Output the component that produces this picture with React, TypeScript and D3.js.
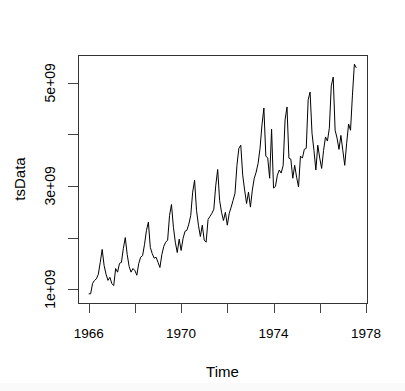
import React from 'react';
import * as d3 from 'd3';

// monthly series, starting Jan 1966 (values in units of 1e9)
const startYear = 1966;
const monthly = [
  0.91, 0.91, 1.11, 1.17, 1.20, 1.29, 1.52, 1.77, 1.46, 1.29, 1.17, 1.23,
  1.11, 1.07, 1.40, 1.33, 1.50, 1.52, 1.79, 2.00, 1.67, 1.44, 1.33, 1.40,
  1.36, 1.27, 1.50, 1.62, 1.65, 1.87, 2.14, 2.30, 1.81, 1.69, 1.60, 1.62,
  1.52, 1.42, 1.67, 1.83, 1.91, 1.95, 2.43, 2.64, 2.20, 1.91, 1.71, 1.97,
  1.75, 1.98, 2.12, 2.14, 2.26, 2.43, 2.88, 3.11, 2.53, 2.24, 2.02, 2.24,
  1.95, 1.91, 2.35, 2.41, 2.47, 2.55, 3.01, 3.32, 2.72, 2.49, 2.33, 2.49,
  2.24, 2.47, 2.59, 2.72, 2.86, 3.40, 3.73, 3.79, 3.21, 2.92, 2.66, 2.88,
  2.59, 2.92, 3.15, 3.27, 3.44, 3.73, 4.18, 4.51, 3.58, 3.54, 3.15, 4.10,
  2.96, 2.99, 3.21, 3.31, 3.25, 3.40, 4.28, 4.53, 3.54, 3.52, 3.15, 3.40,
  3.17, 2.98, 3.58, 3.54, 3.71, 3.73, 4.67, 4.82, 4.02, 3.69, 3.31, 3.79,
  3.54, 3.34, 3.69, 3.95, 3.87, 4.12, 4.94, 5.11, 4.08, 3.93, 3.71, 3.98,
  3.69, 3.40, 3.83, 4.20, 4.08, 4.76, 5.36, 5.29,
];
const xTicks = [1966, 1968, 1970, 1972, 1974, 1976, 1978];
const xTickLabels = ['1966', '', '1970', '', '1974', '', '1978'];
const yTicks = [1e9, 2e9, 3e9, 4e9, 5e9];
const yTickLabels = ['1e+09', '', '3e+09', '', '5e+09'];

const width = 405;
const height = 391;
const margin = { left: 78, right: 38, top: 55, bottom: 88 };
const font = 'Liberation Sans, Arial, Helvetica, sans-serif';

export default function App() {
  const data = monthly.map((v, i) => ({ t: startYear + i / 12, v: v * 1e9 }));

  // R pads the data range by 4% on each side
  const tExt = d3.extent(data, (d) => d.t) as [number, number];
  const vExt = d3.extent(data, (d) => d.v) as [number, number];
  const tPad = (tExt[1] - tExt[0]) * 0.04;
  const vPad = (vExt[1] - vExt[0]) * 0.04;

  const x = d3.scaleLinear()
    .domain([tExt[0] - tPad, tExt[1] + tPad])
    .range([margin.left, width - margin.right]);
  const y = d3.scaleLinear()
    .domain([vExt[0] - vPad, vExt[1] + vPad])
    .range([height - margin.bottom, margin.top]);

  const line = d3.line<{ t: number; v: number }>()
    .x((d) => x(d.t))
    .y((d) => y(d.v));

  const x0 = margin.left;
  const x1 = width - margin.right;
  const y0 = margin.top;
  const y1 = height - margin.bottom;

  return (
    <svg width={width} height={height} style={{ position: 'absolute', left: 0, top: 0, background: '#fff' }}>
      <rect x={0} y={383} width={width} height={8} fill="#fafafa" />
      <path d={line(data) || ''} fill="none" stroke="#000" strokeWidth={1} />
      <rect x={x0 + 0.5} y={y0 + 0.5} width={x1 - x0} height={y1 - y0} fill="none" stroke="#333" strokeWidth={1} />

      {/* x axis */}
      <line x1={x(xTicks[0])} x2={x(xTicks[xTicks.length - 1])} y1={y1 + 0.5} y2={y1 + 0.5} stroke="#333" />
      {xTicks.map((t, i) => (
        <g key={t}>
          <line x1={Math.round(x(t)) + 0.5} x2={Math.round(x(t)) + 0.5} y1={y1} y2={y1 + 10} stroke="#444" />
          {xTickLabels[i] && (
            <text x={x(t)} y={338} textAnchor="middle" fontFamily={font} fontSize={13.5} fill="#000">
              {xTickLabels[i]}
            </text>
          )}
        </g>
      ))}
      <text x={(x0 + x1) / 2} y={377} textAnchor="middle" fontFamily={font} fontSize={15} fill="#000">
        Time
      </text>

      {/* y axis */}
      <line x1={x0 + 0.5} x2={x0 + 0.5} y1={y(yTicks[0])} y2={y(yTicks[yTicks.length - 1])} stroke="#333" />
      {yTicks.map((v, i) => (
        <g key={v}>
          <line x1={x0 - 10} x2={x0} y1={Math.round(y(v)) + 0.5} y2={Math.round(y(v)) + 0.5} stroke="#444" />
          {yTickLabels[i] && (
            <text
              transform={`translate(55,${y(v)}) rotate(-90)`}
              textAnchor="middle"
              fontFamily={font}
              fontSize={14}
              fill="#000"
            >
              {yTickLabels[i]}
            </text>
          )}
        </g>
      ))}
      <text
        transform={`translate(25,${(y0 + y1) / 2}) rotate(-90)`}
        textAnchor="middle"
        fontFamily={font}
        fontSize={15}
        fill="#000"
      >
        tsData
      </text>
    </svg>
  );
}
